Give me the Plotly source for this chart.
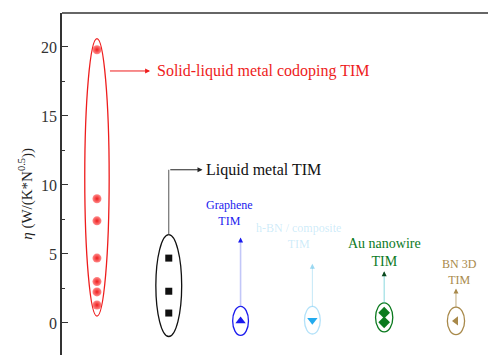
import plotly.graph_objects as go

# Category positions along the horizontal axis
groups = ["Solid-liquid metal codoping TIM", "Liquid metal TIM", "Graphene TIM",
          "Composite TIM", "Au nanowire TIM", "BN 3D TIM"]
xpos = [1, 2, 3, 4, 5, 6]

# eta values, W/(K*N^0.5)
codoping = [19.8, 9.0, 7.4, 4.7, 3.0, 2.25, 1.3]
liquid_metal = [4.7, 2.3, 0.72]
graphene = [0.15]
composite = [0.2]
au_nanowire = [0.75, 0.05]
bn_3d = [0.15]

series = [codoping, liquid_metal, graphene, composite, au_nanowire, bn_3d]
colors = ["#ee1c1c", "#111111", "#1a1aee", "#22aaee", "#0b7a1e", "#a8894a"]
symbols = ["circle", "square", "triangle-up", "triangle-down", "diamond", "triangle-left"]
sizes = [9, 7, 9, 9, 9, 8]
ring_pad = [0.8, 1.7, 1.05, 1.0, 0.7, 1.0]
ring_halfw = [0.17, 0.18, 0.11, 0.11, 0.12, 0.12]
ring_alpha = [1.0, 1.0, 1.0, 0.35, 1.0, 1.0]

fig = go.Figure()

for x, vals, c, s, sz in zip(xpos, series, colors, symbols, sizes):
    marker = dict(color=c, symbol=s, size=sz, line=dict(width=0))
    if s == "circle":
        marker = dict(color="#ff8c8c", symbol=s, size=sz, line=dict(width=0),
                      gradient=dict(type="radial", color=c))
    fig.add_trace(go.Scatter(x=[x] * len(vals), y=vals, mode="markers",
                             marker=marker, showlegend=False, hoverinfo="y"))


def rgba(hexc, a):
    h = hexc.lstrip("#")
    r, g, b = int(h[0:2], 16), int(h[2:4], 16), int(h[4:6], 16)
    return f"rgba({r},{g},{b},{a})"


# Ellipses enclosing each group
ring_top = []
for x, vals, c, pad, hw, a in zip(xpos, series, colors, ring_pad, ring_halfw, ring_alpha):
    y0, y1 = min(vals) - pad, max(vals) + pad
    ring_top.append(y1)
    fig.add_shape(type="circle", xref="x", yref="y", x0=x - hw, x1=x + hw, y0=y0, y1=y1,
                  line=dict(color=rgba(c, a), width=1.3))

serif = "Liberation Serif, Times New Roman, serif"

# Solid-liquid codoping label with horizontal arrow
fig.add_annotation(x=1.74, y=18.26, ax=1 + ring_halfw[0] - 0.01, ay=18.26, axref="x", ayref="y",
                   xref="x", yref="y", text="", showarrow=True, arrowhead=2, arrowsize=1,
                   arrowwidth=1, arrowcolor=colors[0])
fig.add_annotation(x=1.81, y=18.26, xref="x", yref="y", text=groups[0], showarrow=False,
                   xanchor="left", font=dict(family=serif, size=16, color=colors[0]))

# Liquid metal label: vertical leader then arrow to the right
fig.add_shape(type="line", xref="x", yref="y", x0=2, x1=2, y0=ring_top[1], y1=11.1,
              line=dict(color="#555555", width=1))
fig.add_annotation(x=2.47, y=11.1, ax=2, ay=11.1, axref="x", ayref="y", xref="x", yref="y",
                   text="", showarrow=True, arrowhead=2, arrowsize=1, arrowwidth=1,
                   arrowcolor="#222222")
fig.add_annotation(x=2.49, y=11.1, xref="x", yref="y", text=groups[1], showarrow=False,
                   xanchor="left", font=dict(family=serif, size=16, color="#111111"))

# Vertical leaders with arrows for the small-value groups
leaders = [(3, 6.2, colors[2], "rgba(120,130,240,0.45)"),
           (4, 4.3, "rgba(60,180,230,0.5)", "rgba(60,180,230,0.3)"),
           (5, 3.75, "#0b4a1e", "rgba(60,190,200,0.6)"),
           (6, 2.5, colors[5], "rgba(168,137,74,0.7)")]
for (x, ytip, headc, linec), top in zip(leaders, ring_top[2:]):
    fig.add_shape(type="line", xref="x", yref="y", x0=x, x1=x, y0=top, y1=ytip - 0.3,
                  line=dict(color=linec, width=1.6 if x == 3 else 1))
    fig.add_annotation(x=x, y=ytip, ax=x, ay=ytip - 0.4, axref="x", ayref="y", xref="x",
                       yref="y", text="", showarrow=True, arrowhead=2, arrowsize=1,
                       arrowwidth=1, arrowcolor=headc)

# Group labels
fig.add_annotation(x=2.85, y=7.95, xref="x", yref="y", text="Graphene<br>TIM", showarrow=False,
                   font=dict(family=serif, size=12, color=colors[2]))
fig.add_annotation(x=3.8, y=6.3, xref="x", yref="y", text="h-BN / composite<br>TIM",
                   showarrow=False,
                   font=dict(family=serif, size=12, color="rgba(90,190,235,0.3)"))
fig.add_annotation(x=5.0, y=5.1, xref="x", yref="y", text="Au nanowire<br>TIM", showarrow=False,
                   font=dict(family=serif, size=14, color=colors[4]))
fig.add_annotation(x=6.05, y=3.7, xref="x", yref="y", text="BN 3D<br>TIM", showarrow=False,
                   font=dict(family=serif, size=12, color=colors[5]))

# Y axis title
fig.add_annotation(xref="paper", yref="paper", x=0, y=0.47, xshift=-48, textangle=-90,
                   text="<i>η</i> (W/(K*N<sup>0.5</sup>))", showarrow=False,
                   font=dict(family=serif, size=15, color="#222222"))

# Top frame line
fig.add_shape(type="line", xref="paper", yref="paper", x0=0, x1=1, y0=1, y1=1,
              line=dict(color="#333333", width=1.5))

fig.update_layout(
    width=488, height=355,
    margin=dict(l=62, r=0, t=13, b=0),
    paper_bgcolor="white", plot_bgcolor="white",
    xaxis=dict(range=[0.513, 6.446], visible=False, showgrid=False, zeroline=False),
    yaxis=dict(range=[-2.32, 22.46], tickvals=[0, 5, 10, 15, 20], showgrid=False,
               zeroline=False, showline=True, linecolor="#333333", linewidth=1.5,
               ticks="inside", ticklen=6, tickwidth=1, tickcolor="#333333",
               minor=dict(tickvals=[2.5, 7.5, 12.5, 17.5], ticks="inside", ticklen=3,
                          tickcolor="#333333"),
               tickfont=dict(family=serif, size=16, color="#333333")),
)

fig.write_html("out.html")
